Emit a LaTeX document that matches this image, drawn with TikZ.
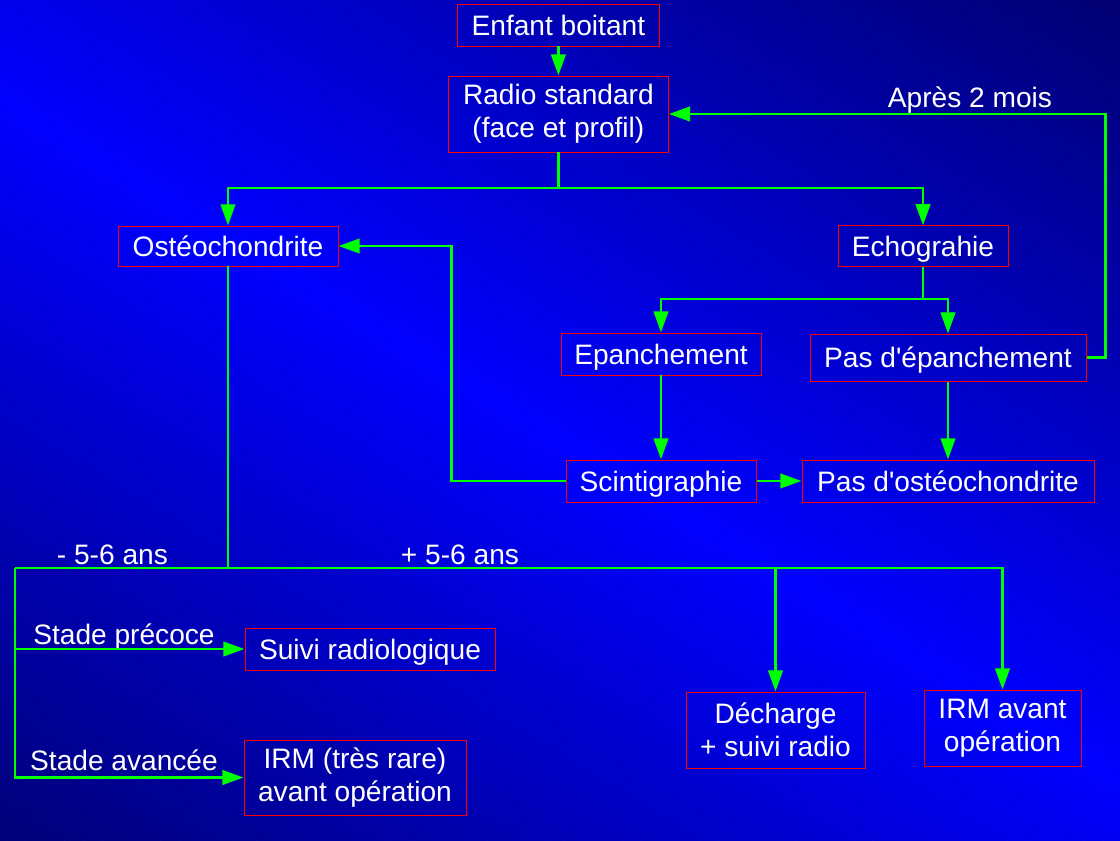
\documentclass[tikz,border=0pt]{standalone}
\usepackage{fontspec}
\setmainfont{Liberation Sans}
\usepackage{xcolor}
\usepackage{tikz}
\usetikzlibrary{arrows.meta}
\usetikzlibrary{calc}

\definecolor{bgdark}{RGB}{0,0,115}
\definecolor{bgbright}{RGB}{0,0,255}
\definecolor{flowgreen}{RGB}{0,255,0}

\begin{document}
\begin{tikzpicture}[
	box/.style={draw=red,line width=0.7pt,text=white,align=center,inner sep=0pt,minimum height=1.05cm,font=\fontsize{20}{23.5}\selectfont},
	single/.style={box,text height=14.3pt,text depth=0pt},
	lbl/.style={text=white,inner sep=0pt,anchor=base,font=\fontsize{20}{23.5}\selectfont},
	link/.style={flowgreen,line width=2.1pt},
	arr/.style={link,-{Triangle[length=0.53cm,width=0.36cm]}}]
	\useasboundingbox (0,0) rectangle (28,21);
	\begin{scope}
		\clip (0,0) rectangle (28,21);
		\begin{scope}[shift={(14,10)},rotate=-31.3]
			\foreach \v in {-17,-16.75,...,16.75}{
				\pgfmathsetmacro{\shadepct}{max(0,100*(1-abs(\v+0.125)/16.5))}
				\fill[bgbright!\shadepct!bgdark] (-20,\v) rectangle (20,\v+0.26);
			}
		\end{scope}
	\end{scope}
	% boxes
	\node[single,minimum width=5.05cm] (enfant) at (13.96,20.375) {Enfant boitant};
	\node[box,minimum width=5.5cm,minimum height=1.9cm] (radio) at (13.96,18.15) {Radio standard\\(face et profil)};
	\node[single,minimum width=5.5cm,minimum height=1cm] (osteo) at (5.7,14.85) {Ostéochondrite};
	\node[single,minimum width=4.25cm,minimum height=1.025cm] (echo) at (23.075,14.84) {Echograhie};
	\node[single,minimum width=5cm] (epan) at (16.525,12.15) {Epanchement};
	\node[single,minimum width=6.9cm,minimum height=1.175cm] (pasepan) at (23.7,12.06) {Pas d\textquotesingle épanchement};
	\node[single,minimum width=4.75cm] (scinti) at (16.525,8.975) {Scintigraphie};
	\node[single,minimum width=7.3cm] (pasosteo) at (23.7,8.975) {Pas d\textquotesingle ostéochondrite};
	\node[single,minimum width=6.25cm] (suivi) at (9.25,4.775) {Suivi radiologique};
	\node[box,minimum width=5.55cm,minimum height=1.875cm] (irmrare) at (8.875,1.5625) {IRM (très rare)\\avant opération};
	\node[box,minimum width=4.475cm,minimum height=1.9cm] (decharge) at (19.3875,2.75) {Décharge\\+ suivi radio};
	\node[box,minimum width=3.925cm,minimum height=1.9cm] (irmavant) at (25.0625,2.8) {IRM avant\\opération};
	% labels
	\node[lbl] (apres) at (24.25,18.3) {Après 2 mois};
	\node[lbl] (moins) at (2.81,6.89) {- 5-6 ans};
	\node[lbl] (plus) at (11.5,6.89) {+ 5-6 ans};
	\node[lbl] (precoce) at (3.1,4.9) {Stade précoce};
	\node[lbl] (avancee) at (3.1,1.75) {Stade avancée};
	% connectors
	\coordinate (r1) at (13.96,16.3);
	\coordinate (e1) at (23.075,13.525);
	\coordinate (split) at (5.7,6.8);
	\coordinate (jl) at (0.375,6.8);
	\draw[arr] (enfant) -- (radio);
	\draw[link] (radio.south) -- (r1);
	\draw[arr] (r1) -| (osteo.north);
	\draw[arr] (r1) -| (echo.north);
	\draw[link] (echo.south) -- (e1);
	\draw[arr] (e1) -| (epan.north);
	\draw[arr] (e1) -| (pasepan.north);
	\draw[arr] (pasepan.east) -- ++(0.475,0) |- (radio.east);
	\draw[arr] (epan) -- (scinti);
	\draw[arr] (pasepan) -- (pasosteo);
	\draw[arr] (scinti) -- (pasosteo);
	\draw[arr] (scinti.west) -- ++(-2.85,0) |- (osteo.east);
	\draw[link] (osteo.south) -- (split);
	\draw[arr] (jl) -| (irmavant.north);
	\draw[arr] (decharge.north |- jl) -- (decharge.north);
	\draw[arr] (jl) |- (suivi.west);
	\draw[arr] (jl) |- (irmrare.west);
\end{tikzpicture}
\end{document}
